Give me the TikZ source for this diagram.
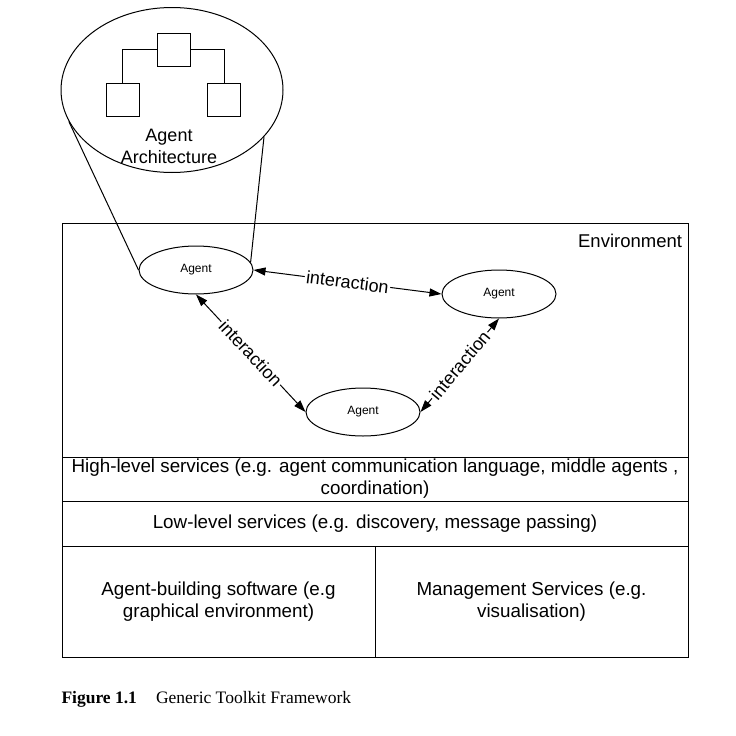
\documentclass[tikz,border=0pt]{standalone}
\usepackage{fontspec}
\setmainfont{Liberation Sans}
\newfontfamily\capfont{Liberation Serif}
\usetikzlibrary{shapes.geometric,arrows.meta}
\begin{document}
\begin{tikzpicture}[x=1pt,y=-1pt,line width=1pt,
  agent/.style={draw,ellipse,minimum width=114pt,minimum height=48pt,inner sep=0pt,font=\fontsize{12}{14}\selectfont},
  unit/.style={draw,minimum size=33pt,inner sep=0pt},
  layer/.style={draw,inner sep=0pt,align=center,font=\fontsize{18.8}{22}\selectfont},
  inter/.style={{Triangle[length=12pt,width=8pt]}-{Triangle[length=12pt,width=8pt]}},
  lbl/.style={fill=white,inner sep=1.5pt,sloped,font=\fontsize{18}{20}\selectfont}]
\useasboundingbox (0,0) rectangle (736,736);
\node[draw,ellipse,minimum width=222pt,minimum height=165pt] (arch) at (172,90) {};
\node[unit] (top) at (173.5,49.5) {};
\node[unit] (left) at (122.5,100) {};
\node[unit] (right) at (224,100) {};
\draw (top.west) -| (left.north);
\draw (top.east) -| (right.north);
\node[align=center,font=\fontsize{18}{22}\selectfont] (archtxt) at (169,146) {Agent\\Architecture};
\node[layer,minimum width=626pt,minimum height=234pt] (env) at (375,340) {};
\node[anchor=north east,inner xsep=6pt,inner ysep=11pt,font=\fontsize{18.5}{20}\selectfont] (envlbl) at (env.north east) {Environment};
\node[layer,minimum width=626pt,minimum height=44pt] (high) at (375,479) {High-level services (e.g. agent communication language, middle agents ,\\coordination)};
\node[layer,minimum width=626pt,minimum height=45pt] (low) at (375,523.5) {Low-level services (e.g. discovery, message passing)};
\node[layer,minimum width=313pt,minimum height=111pt] (build) at (218.5,601.5) {Agent-building software (e.g\\graphical environment)};
\node[layer,minimum width=313pt,minimum height=111pt] (mgmt) at (531.5,601.5) {Management Services (e.g.\\visualisation)};
\foreach \n/\x/\y in {a1/196/270,a2/499/294,a3/363/412}
\node[agent] (\n) at (\x,\y) {Agent};
\draw (arch.197) -- (a1.west);
\draw (arch.333) -- (a1.8);
\draw[inter] (a1.east) -- (a2.west) node[lbl,midway] {interaction};
\draw[inter] (a1.south) -- (a3.west) node[lbl,midway] {interaction};
\draw[inter] (a3.east) -- (a2.south) node[lbl,midway] {interaction};
\node[anchor=base west,inner sep=0pt,font=\capfont\fontsize{17.5}{19}\selectfont] (caption) at (61,703) {\textbf{Figure 1.1}\hspace{19pt}Generic Toolkit Framework};
\end{tikzpicture}
\end{document}
